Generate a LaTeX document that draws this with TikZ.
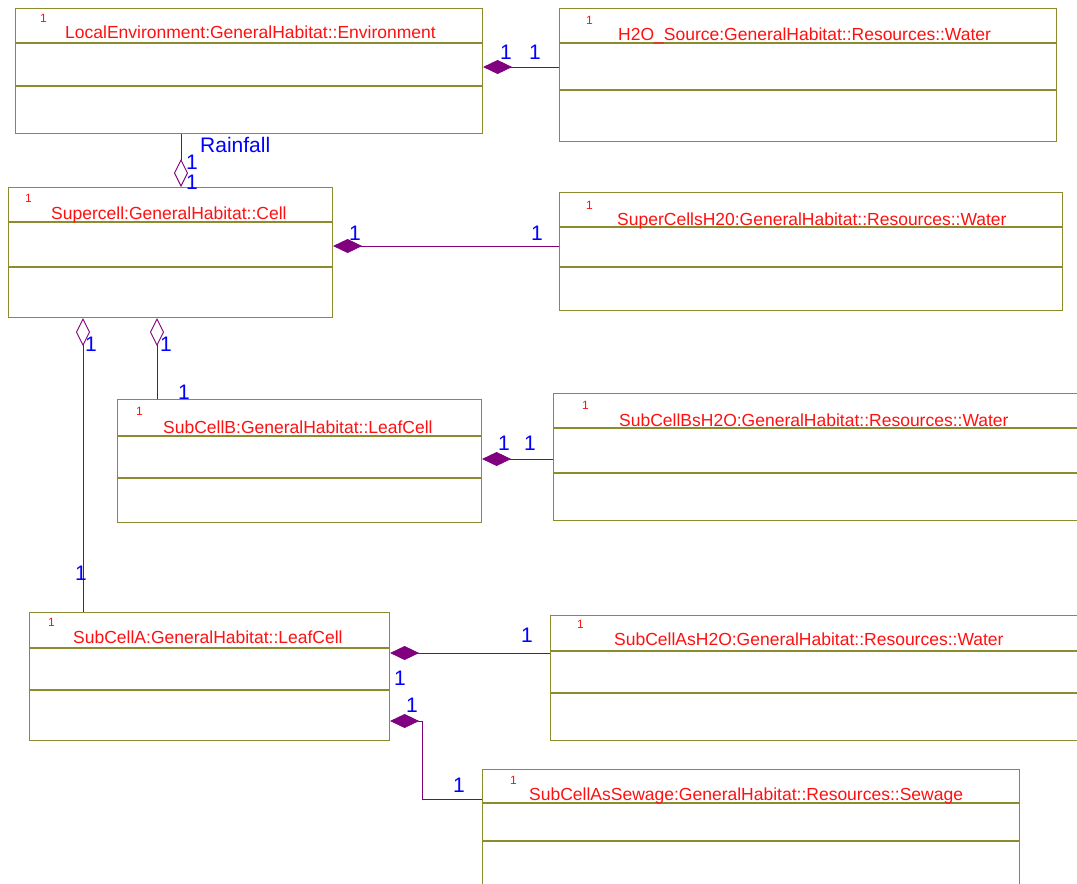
\documentclass[tikz,border=0pt]{standalone}
\usepackage{fontspec}
\setmainfont{Liberation Sans}
\usetikzlibrary{arrows.meta}
\definecolor{boxc}{HTML}{8C8C2E}
\definecolor{linec}{HTML}{800080}
\definecolor{multc}{HTML}{0000FF}
\definecolor{titlec}{HTML}{FF1010}
\tikzset{
  umlbox/.style={draw=boxc, line width=1.1pt, rectangle, inner sep=0pt, anchor=north west},
  divider/.style={draw=boxc, line width=1.1pt},
  classtitle/.style={text=titlec, font=\fontsize{17.5}{20}\selectfont, anchor=base west, inner sep=0pt},
  idx/.style={text=titlec, font=\fontsize{12}{14}\selectfont, anchor=base west, inner sep=0pt},
  mult/.style={text=multc, font=\fontsize{21}{23}\selectfont, anchor=base west, inner sep=0pt},
  conn/.style={draw=linec, line width=0.9pt},
  comp/.style={conn, -{Diamond[length=29pt,width=14pt,fill=linec,line width=0.9pt]}},
  aggr/.style={conn, -{Diamond[open,length=28pt,width=14pt,line width=0.9pt]}},
}
\begin{document}
\begin{tikzpicture}[x={(1pt,0)}, y={(0,-1pt)}]
\useasboundingbox (0,0) rectangle (1077,884);
\clip (0,0) rectangle (1077,884);

% ---------- boxes ----------
\node[umlbox, minimum width=467pt, minimum height=125pt] (env) at (15,8) {};
\draw[divider] (env.west |- 0,43) -- (env.east |- 0,43);
\draw[divider] (env.west |- 0,86) -- (env.east |- 0,86);
\node[idx] (envi) at (40,22) {1};
\node[classtitle] (envt) at (65,38) {LocalEnvironment:GeneralHabitat::Environment};

\node[umlbox, minimum width=497pt, minimum height=133pt] (h2o) at (559,8) {};
\draw[divider] (h2o.west |- 0,43) -- (h2o.east |- 0,43);
\draw[divider] (h2o.west |- 0,90) -- (h2o.east |- 0,90);
\node[idx] (h2oi) at (586,24) {1};
\node[classtitle] (h2ot) at (618,40) {H2O\_Source:GeneralHabitat::Resources::Water};

\node[umlbox, minimum width=324pt, minimum height=130pt] (super) at (8,187) {};
\draw[divider] (super.west |- 0,222) -- (super.east |- 0,222);
\draw[divider] (super.west |- 0,267) -- (super.east |- 0,267);
\node[idx] (superi) at (25,202) {1};
\node[classtitle] (supert) at (51,219) {Supercell:GeneralHabitat::Cell};

\node[umlbox, minimum width=503pt, minimum height=118pt] (superw) at (559,192) {};
\draw[divider] (superw.west |- 0,227) -- (superw.east |- 0,227);
\draw[divider] (superw.west |- 0,267) -- (superw.east |- 0,267);
\node[idx] (superwi) at (586,209) {1};
\node[classtitle] (superwt) at (617,225) {SuperCellsH20:GeneralHabitat::Resources::Water};

\node[umlbox, minimum width=364pt, minimum height=123pt] (subb) at (117,399) {};
\draw[divider] (subb.west |- 0,436) -- (subb.east |- 0,436);
\draw[divider] (subb.west |- 0,478) -- (subb.east |- 0,478);
\node[idx] (subbi) at (136,415) {1};
\node[classtitle] (subbt) at (163,433) {SubCellB:GeneralHabitat::LeafCell};

\node[umlbox, minimum width=545pt, minimum height=127pt] (subbw) at (553,393) {};
\draw[divider] (subbw.west |- 0,428) -- (subbw.east |- 0,428);
\draw[divider] (subbw.west |- 0,473) -- (subbw.east |- 0,473);
\node[idx] (subbwi) at (582,409) {1};
\node[classtitle] (subbwt) at (619,426) {SubCellBsH2O:GeneralHabitat::Resources::Water};

\node[umlbox, minimum width=360pt, minimum height=128pt] (suba) at (29,612) {};
\draw[divider] (suba.west |- 0,648) -- (suba.east |- 0,648);
\draw[divider] (suba.west |- 0,690) -- (suba.east |- 0,690);
\node[idx] (subai) at (48,626) {1};
\node[classtitle] (subat) at (73,643) {SubCellA:GeneralHabitat::LeafCell};

\node[umlbox, minimum width=548pt, minimum height=125pt] (subaw) at (550,615) {};
\draw[divider] (subaw.west |- 0,651) -- (subaw.east |- 0,651);
\draw[divider] (subaw.west |- 0,693) -- (subaw.east |- 0,693);
\node[idx] (subawi) at (577,628) {1};
\node[classtitle] (subawt) at (614,645) {SubCellAsH2O:GeneralHabitat::Resources::Water};

\node[umlbox, minimum width=537pt, minimum height=140pt] (sew) at (482,769) {};
\draw[divider] (sew.west |- 0,803) -- (sew.east |- 0,803);
\draw[divider] (sew.west |- 0,841) -- (sew.east |- 0,841);
\node[idx] (sewi) at (510,784) {1};
\node[classtitle] (sewt) at (529,800) {SubCellAsSewage:GeneralHabitat::Resources::Sewage};

% ---------- connectors ----------
\draw[comp] (h2o.west |- 0,67) -- (env.east |- 0,67);
\node[mult] (m1) at (500,59) {1};
\node[mult] (m2) at (529,59) {1};

\draw[aggr] (env.south -| 181,0) -- (super.north -| 181,0);
\node[mult] (rain) at (200,152) {Rainfall};
\node[mult] (m3) at (186,169) {1};
\node[mult] (m4) at (186,189) {1};

\draw[comp] (superw.west |- 0,246) -- (super.east |- 0,246);
\node[mult] (m5) at (349,240) {1};
\node[mult] (m6) at (531,240) {1};

\draw[aggr] (suba.north -| 83,0) -- (super.south -| 83,0);
\node[mult] (m7) at (85,351) {1};
\node[mult] (m8) at (75,580) {1};

\draw[aggr] (subb.north -| 157,0) -- (super.south -| 157,0);
\node[mult] (m9) at (160,351) {1};
\node[mult] (m10) at (178,399) {1};

\draw[comp] (subbw.west |- 0,459) -- (subb.east |- 0,459);
\node[mult] (m11) at (498,450) {1};
\node[mult] (m12) at (524,450) {1};

\draw[comp] (subaw.west |- 0,653) -- (suba.east |- 0,653);
\node[mult] (m13) at (521,642) {1};
\node[mult] (m14) at (394,685) {1};

\draw[comp] (sew.west |- 0,799) -| (422,721) -- (suba.east |- 0,721);
\node[mult] (m15) at (406,712) {1};
\node[mult] (m16) at (453,792) {1};
\end{tikzpicture}
\end{document}
